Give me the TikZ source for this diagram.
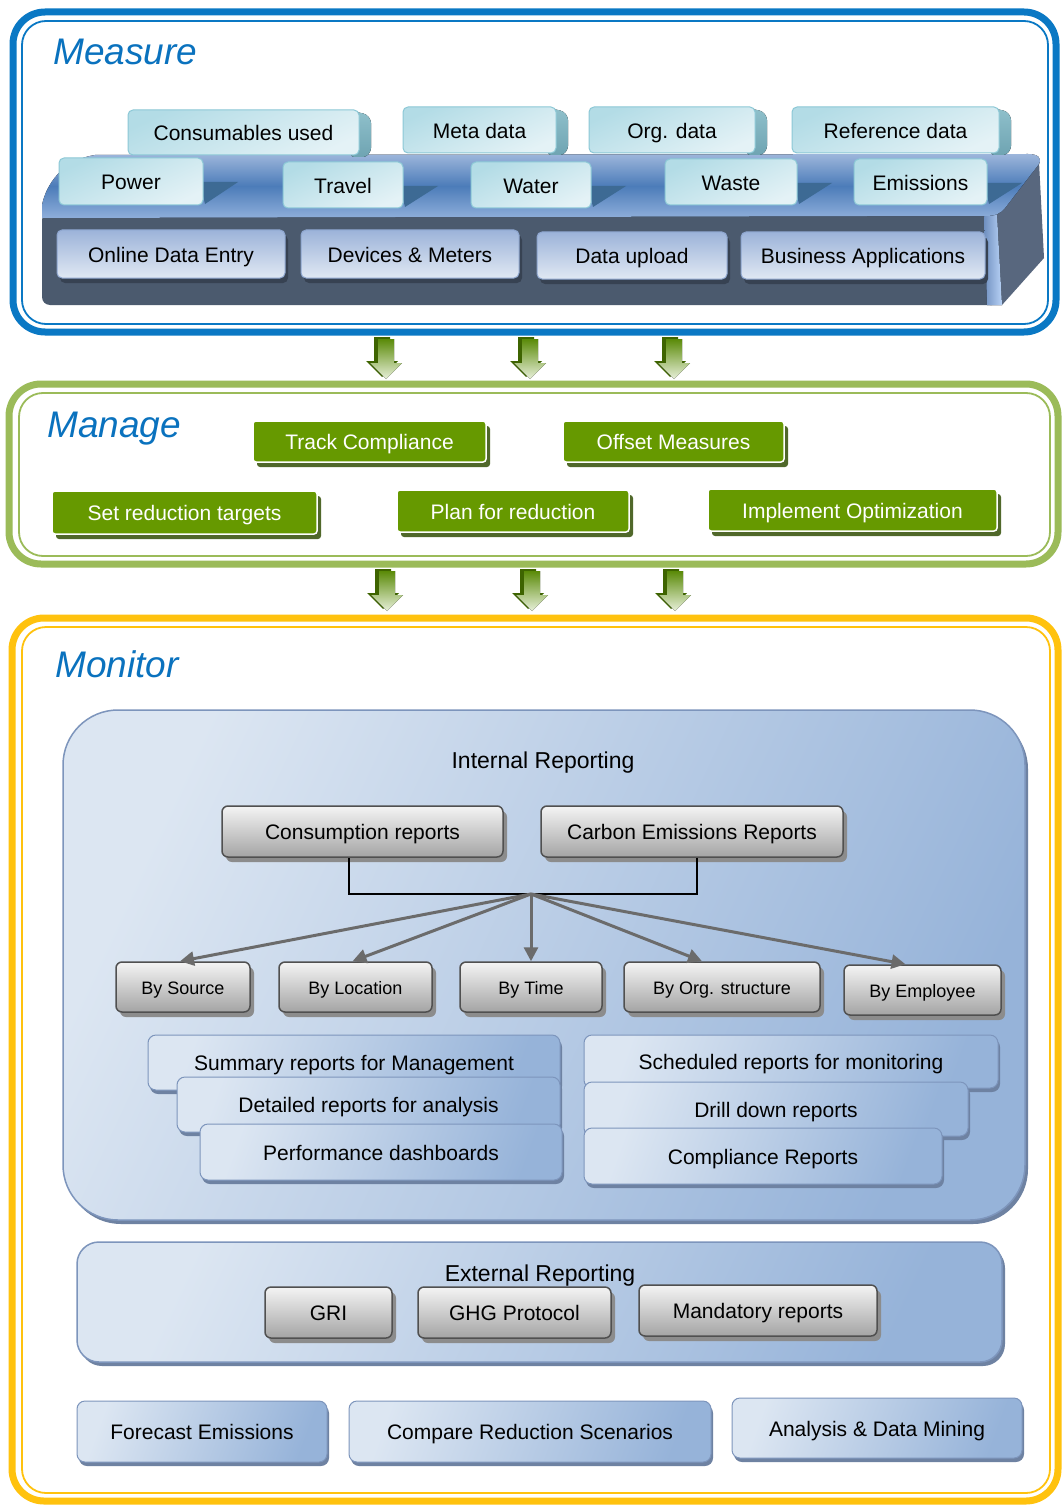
\documentclass[tikz,border=0pt]{standalone}
\usepackage{fontspec}
\setmainfont{Liberation Sans}
\usetikzlibrary{arrows.meta,shadows}
\newcommand{\fsz}[1]{\fontsize{#1}{#1}\selectfont}

\definecolor{mblue}{HTML}{0A78C4}
\definecolor{titleblue}{HTML}{0A72BE}
\definecolor{mgreen}{HTML}{9BBB59}
\definecolor{myellow}{HTML}{FFC20E}
\definecolor{slabfront}{HTML}{4B5A6E}
\definecolor{slabA}{HTML}{9DB6DB}
\definecolor{slabB}{HTML}{4C7CB9}
\definecolor{slabC}{HTML}{8EAEDA}
\definecolor{sideB}{HTML}{58677E}
\definecolor{hiA}{HTML}{7090C0}
\definecolor{hiB}{HTML}{B8D2F6}
\definecolor{tealA}{HTML}{B3DCE6}
\definecolor{tealB}{HTML}{E4F2F6}
\definecolor{tealline}{HTML}{8CC8D6}
\definecolor{upsideA}{HTML}{8FC0CB}
\definecolor{upsideB}{HTML}{6FA4B2}
\definecolor{wedgec}{HTML}{3D6A94}
\definecolor{btA}{HTML}{9CB3D9}
\definecolor{btB}{HTML}{E0E8F3}
\definecolor{btline}{HTML}{8DA5CE}
\definecolor{btshadow}{HTML}{374252}
\definecolor{boxgreen}{HTML}{669900}
\definecolor{gshadow}{HTML}{50682A}
\definecolor{gtop}{HTML}{5A8A08}
\definecolor{gbot}{HTML}{E8F0DA}
\definecolor{gdark}{HTML}{3E6400}
\definecolor{grayA}{HTML}{F4F4F4}
\definecolor{grayB}{HTML}{A4A4A4}
\definecolor{grayline}{HTML}{505050}
\definecolor{grayshadow}{HTML}{8C8C8C}
\definecolor{rlight}{HTML}{DCE6F2}
\definecolor{rdark}{HTML}{96B3D9}
\definecolor{rline}{HTML}{7D95BC}
\definecolor{rshadow}{HTML}{6E82A2}
\definecolor{arrowgray}{HTML}{6B6B6B}

\tikzset{
  frameouter/.style={line width=7pt, rounded corners=32pt},
  frameinner/.style={line width=1.8pt, rounded corners=24pt},
  sectitle/.style={font=\fsz{37}\itshape, text=titleblue, inner sep=0pt, anchor=base west},
  tile/.style={inner sep=0pt, font=\fsz{21}, text height=16.5pt, text depth=0pt},
  tealtile/.style={tile, rounded corners=5pt, draw=tealline, line width=1pt, top color=tealA, bottom color=tealB, shading angle=25},
  bluetile/.style={tile, rounded corners=5pt, draw=btline, line width=1pt, top color=btA, bottom color=btB, drop shadow={shadow xshift=3pt, shadow yshift=-5pt, fill=btshadow, opacity=1}},
  greenbox/.style={tile, rounded corners=3pt, fill=boxgreen, draw=white, line width=1.5pt, text=white, drop shadow={shadow xshift=4pt, shadow yshift=-5pt, fill=gshadow, opacity=1}},
  graybox/.style={tile, rounded corners=6pt, draw=grayline, line width=1.5pt, top color=grayA, bottom color=grayB, drop shadow={shadow xshift=4pt, shadow yshift=-5pt, fill=grayshadow, opacity=1}},
  smallgray/.style={graybox, font=\fsz{18}, text height=14pt, text depth=0pt},
  repbox/.style={tile, rounded corners=8pt, draw=rline, line width=1pt, left color=rlight, right color=rdark, shading angle=70, drop shadow={shadow xshift=2pt, shadow yshift=-4pt, fill=rshadow, opacity=1}},
  bigpanel/.style={inner sep=0pt, draw=rline, line width=1.5pt, left color=rlight, right color=rdark, shading angle=65, drop shadow={shadow xshift=3pt, shadow yshift=-4pt, fill=rshadow, opacity=1}},
  heading/.style={font=\fsz{23}, inner sep=0pt, anchor=base},
  fanarrow/.style={draw=arrowgray, line width=3pt, -{Triangle[length=14pt,width=14pt]}},
}

% generic box: style, name, x1, y1, x2, y2, text
\newcommand{\boxat}[7]{\node[#1, minimum width={#5-#3}, minimum height={#6-#4}] (#2) at ({(#3+#5)/2},{(#4+#6)/2}) {#7};}
% upper tile with 3D side
\newcommand{\uptile}[6]{%
  \fill[top color=upsideA, bottom color=upsideB, rounded corners=3pt] ({#4-8},{#3+1}) -- ({#4+7},{#3+4}) -- ({#4+12},{#3+10}) -- ({#4+12},{#5-4}) -- ({#4+7},{#5+2}) -- ({#4-8},{#5+2}) -- cycle;
  \boxat{tealtile}{#1}{#2}{#3}{#4}{#5}{#6}}
% lower tile with wedge shadow
\newcommand{\lotile}[6]{%
  \fill[wedgec] ({#4-3},{#3+24}) -- ({#4+35},{#3+24}) -- ({#4+2},{#5-1}) -- cycle;
  \boxat{tealtile}{#1}{#2}{#3}{#4}{#5}{#6}}
% green block arrow: name, cx, ytop
\newcommand{\garrow}[3]{%
  \coordinate (#1) at (#2,#3);
  \fill[gdark] ({#2-11},{#3-2}) -- ({#2+5},{#3-2}) -- ({#2+5},{#3+22}) -- ({#2+13},{#3+22}) -- ({#2-3},{#3+38}) -- ({#2-19},{#3+22}) -- ({#2-11},{#3+22}) -- cycle;
  \fill[top color=gtop, bottom color=gbot] ({#2-7},{#3}) -- ({#2+9},{#3}) -- ({#2+9},{#3+24}) -- ({#2+17},{#3+24}) -- ({#2+1},{#3+40}) -- ({#2-15},{#3+24}) -- ({#2-7},{#3+24}) -- cycle;}

\begin{document}
\begin{tikzpicture}[x=1pt, y=-1pt]
\useasboundingbox (0,0) rectangle (1063,1506);
\fill[white] (0,0) rectangle (1063,1506);

%================ MEASURE ================
\draw[mblue, frameouter] (13,12) rectangle (1056,332);
\draw[mblue, frameinner] (22,21) rectangle (1048,324);
\node[sectitle] (tmeasure) at (53,65) {Measure};

% slab
\fill[slabfront, rounded corners=8pt] (42,212) -- (42,305) -- (1000,305) -- (1000,212) -- cycle;
\fill[sideB] (990,214) -- (1039,162) -- (1044,258) -- (1002,305) -- (990,305) -- cycle;
\fill[left color=hiA, right color=hiB] (984,216) -- (997,214) -- (1002,305) -- (987,305) -- cycle;
\fill[top color=slabA, bottom color=slabC, middle color=slabB] (42,218) -- (42,205) .. controls (46,185) and (62,160) .. (95,155) -- (1028,154) .. controls (1038,154) and (1042,158) .. (1039,164) -- (1005,208) .. controls (1000,214) and (995,216) .. (985,216) -- cycle;

\uptile{tcons}{128}{110}{359}{155}{Consumables used}
\uptile{tmeta}{403}{107}{556}{153}{Meta data}
\uptile{torg}{589}{107}{755}{153}{Org. data}
\uptile{tref}{792}{107}{999}{153}{Reference data}

\lotile{tpow}{59}{158}{203}{205}{Power}
\lotile{ttrav}{283}{162}{403}{208}{Travel}
\lotile{twat}{471}{162}{591}{208}{Water}
\lotile{twaste}{665}{159}{797}{205}{Waste}
\lotile{temis}{854}{159}{987}{205}{Emissions}

\boxat{bluetile}{bode}{57}{230}{285}{278}{Online Data Entry}
\boxat{bluetile}{bdev}{301}{230}{519}{278}{Devices \& Meters}
\boxat{bluetile}{bup}{537}{232}{727}{279}{Data upload}
\boxat{bluetile}{bbus}{741}{232}{985}{279}{Business Applications}

%================ ARROWS 1 ================
\garrow{ga1}{385}{339}
\garrow{ga2}{529}{339}
\garrow{ga3}{673}{339}

%================ MANAGE ================
\draw[mgreen, frameouter] (9,384) rectangle (1058,564);
\draw[mgreen, frameinner] (19,393) rectangle (1050,556);
\node[sectitle] (tmanage) at (47,437) {Manage};

\boxat{greenbox}{gtrack}{253}{421}{486}{462}{Track Compliance}
\boxat{greenbox}{goffset}{563}{421}{784}{462}{Offset Measures}
\boxat{greenbox}{gset}{52}{491}{317}{534}{Set reduction targets}
\boxat{greenbox}{gplan}{397}{490}{629}{532}{Plan for reduction}
\boxat{greenbox}{gimpl}{708}{489}{997}{531}{Implement Optimization}

%================ ARROWS 2 ================
\garrow{gb1}{386}{571}
\garrow{gb2}{531}{571}
\garrow{gb3}{674}{571}

%================ MONITOR ================
\draw[myellow, frameouter] (12,618) rectangle (1058,1501);
\draw[myellow, frameinner] (22,627) rectangle (1050,1493);
\node[sectitle] (tmonitor) at (55,677) {Monitor};

\boxat{bigpanel, rounded corners=55pt}{internal}{63}{710}{1025}{1220}{}
\node[heading] (tinternal) at (543,768) {Internal Reporting};

\boxat{graybox}{rcons}{222}{806}{503}{857}{Consumption reports}
\boxat{graybox}{rcarb}{541}{806}{843}{857}{Carbon Emissions Reports}

\coordinate (fan) at (531,894);
\draw[line width=2pt] ([xshift=-13.5pt]rcons.south) -- ++(0,36) -| ([xshift=5pt]rcarb.south);

\boxat{smallgray}{bysrc}{116}{962}{250}{1012}{By Source}
\boxat{smallgray}{byloc}{279}{962}{432}{1012}{By Location}
\boxat{smallgray}{bytime}{460}{962}{602}{1012}{By Time}
\boxat{smallgray}{byorg}{624}{962}{820}{1012}{By Org. structure}
\boxat{smallgray}{byemp}{844}{965}{1001}{1015}{By Employee}

\draw[fanarrow] (fan) -- ([xshift=-3pt]bysrc.north);
\draw[fanarrow] (fan) -- ([xshift=-3pt]byloc.north);
\draw[fanarrow] (fan) -- (bytime.north);
\draw[fanarrow] (fan) -- ([xshift=-20pt]byorg.north);
\draw[fanarrow] (fan) -- ([xshift=-17pt]byemp.north);

\boxat{repbox}{rsum}{148}{1035}{560}{1090}{Summary reports for Management}
\boxat{repbox}{rdet}{177}{1077}{560}{1132}{Detailed reports for analysis}
\boxat{repbox}{rperf}{200}{1124}{562}{1180}{Performance dashboards}
\boxat{repbox}{rsched}{584}{1035}{998}{1088}{Scheduled reports for monitoring}
\boxat{repbox}{rdrill}{584}{1082}{968}{1136}{Drill down reports}
\boxat{repbox}{rcomp}{584}{1128}{942}{1184}{Compliance Reports}

\boxat{bigpanel, rounded corners=22pt}{external}{77}{1242}{1002}{1362}{}
\node[heading] (texternal) at (540,1281) {External Reporting};
\boxat{graybox}{rgri}{265}{1287}{392}{1338}{GRI}
\boxat{graybox}{rghg}{418}{1287}{611}{1338}{GHG Protocol}
\boxat{graybox}{rmand}{639}{1285}{877}{1336}{Mandatory reports}

\boxat{repbox}{bfore}{77}{1401}{327}{1462}{Forecast Emissions}
\boxat{repbox}{bcomp}{349}{1401}{711}{1462}{Compare Reduction Scenarios}
\boxat{repbox}{bana}{732}{1398}{1022}{1458}{Analysis \& Data Mining}
\end{tikzpicture}
\end{document}
